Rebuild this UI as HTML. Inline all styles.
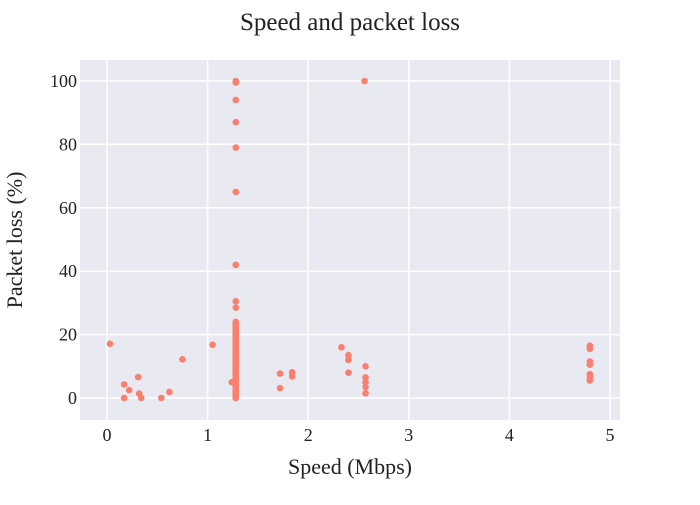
<!DOCTYPE html>
<html><head><meta charset="utf-8"><style>
body{margin:0;background:#fff;}
svg text{font-family:"Liberation Serif",serif;fill:#222;}
</style></head><body>
<svg id="c" width="700" height="500">
<rect x="80" y="60" width="540" height="360" fill="#e9e9f1"/>
<g id="grid"></g><g id="pts"></g><g id="ticks"></g>
<text x="350" y="30" font-size="25" text-anchor="middle">Speed and packet loss</text>
<text x="350" y="474" font-size="22" text-anchor="middle">Speed (Mbps)</text>
<text transform="translate(22,240) rotate(-90)" font-size="22" text-anchor="middle">Packet loss (%)</text>
</svg>
<script>
const speeds=[0.03,0.17,0.17,0.22,0.31,0.32,0.34,0.54,0.62,0.75,1.05,1.24,
1.72,1.72,1.84,1.84,2.33,2.4,2.4,2.4,2.57,2.57,2.57,2.57,2.57,2.56,
4.8,4.8,4.8,4.8,4.8,4.8,4.8];
const losses=[17.1,4.3,0,2.5,6.6,1.4,0,0,1.9,12.2,16.8,5,
7.7,3.1,8.1,6.8,16,13.5,12,8,10,6.5,5,3.5,1.5,100,
16.5,15.5,11.5,10.5,7.5,6.5,5.5];
const clusterSpeed=1.28;
const clusterLoss=[0,0.5,1,1.5,2,2.5,3,3.5,4,4.5,5,5.5,6,6.5,7,7.5,8,8.5,9,9.5,10,10.5,11,11.5,12,12.5,13,13.5,14,14.5,15,15.5,16,16.5,17,17.5,18,18.5,19,19.5,20,20.5,21,21.5,22,22.5,23,23.5,24,28.5,30.5,42,65,79,87,94,99.5,100];
const xTicks=[0,1,2,3,4,5];
const yTicks=[0,20,40,60,80,100];
const X=v=>107+v*100.6, Y=v=>398-v*3.17;
const ns="http://www.w3.org/2000/svg";
const g=document.getElementById('grid'),p=document.getElementById('pts'),t=document.getElementById('ticks');
function mk(tag,a,par){const e=document.createElementNS(ns,tag);for(const k in a)e.setAttribute(k,a[k]);par.appendChild(e);return e;}
xTicks.forEach(v=>{const l=mk('line',{x1:X(v),x2:X(v),y1:60,y2:420,stroke:'#fff','stroke-width':1.5},g);


const s=mk('text',{x:X(v),y:441,'font-size':18,'text-anchor':'middle'},t);s.textContent=v;

});
yTicks.forEach(v=>{const l=mk('line',{x1:80,x2:620,y1:Y(v),y2:Y(v),stroke:'#fff','stroke-width':1.5},g);


const s=mk('text',{x:77,y:Y(v)+6,'font-size':18,'text-anchor':'end'},t);s.textContent=v;

});
function dot(sx,ly){const c=mk('circle',{cx:X(sx),cy:Y(ly),r:3.3,fill:'#fa7f6e'},p);

}
speeds.forEach((s,i)=>dot(s,losses[i]));
clusterLoss.forEach(l=>dot(clusterSpeed,l));
</script>
</body></html>
